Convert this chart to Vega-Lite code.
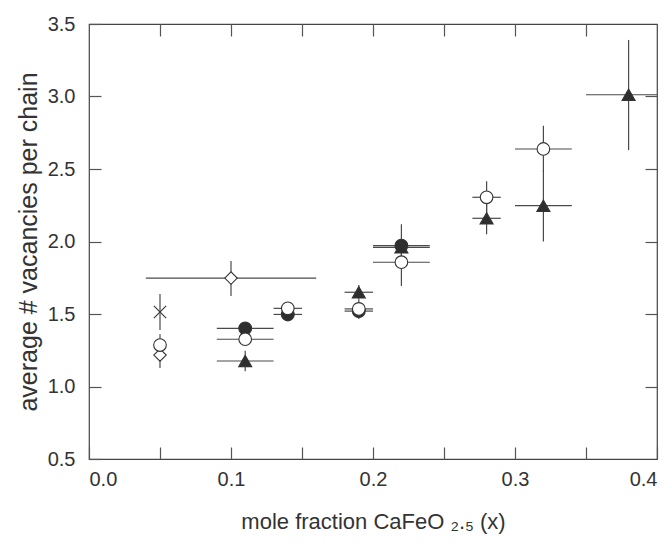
{
  "$schema": "https://vega.github.io/schema/vega-lite/v6.json",
  "width": 568,
  "height": 435,
  "autosize": "none",
  "padding": {"left": 89, "top": 24, "right": 15, "bottom": 85},
  "config": {
    "font": "Liberation Sans",
    "view": {"stroke": "#444", "strokeWidth": 1.2}
  },
  "data": {
    "values": [
      {"series": "triangle", "x": 0.11, "y": 1.176, "xlo": 0.09, "xhi": 0.13, "ylo": 1.106, "yhi": 1.246},
      {"series": "triangle", "x": 0.19, "y": 1.65, "xlo": 0.18, "xhi": 0.20, "ylo": 1.60, "yhi": 1.70},
      {"series": "triangle", "x": 0.22, "y": 1.96, "xlo": 0.20, "xhi": 0.24, "ylo": null, "yhi": null},
      {"series": "triangle", "x": 0.28, "y": 2.16, "xlo": 0.27, "xhi": 0.29, "ylo": 2.05, "yhi": 2.27},
      {"series": "triangle", "x": 0.32, "y": 2.247, "xlo": 0.30, "xhi": 0.34, "ylo": 2.0, "yhi": 2.49},
      {"series": "triangle", "x": 0.38, "y": 3.012, "xlo": 0.35, "xhi": 0.41, "ylo": 2.63, "yhi": 3.39},
      {"series": "filled circle", "x": 0.11, "y": 1.401, "xlo": 0.09, "xhi": 0.13, "ylo": null, "yhi": null},
      {"series": "filled circle", "x": 0.14, "y": 1.497, "xlo": 0.13, "xhi": 0.15, "ylo": null, "yhi": null},
      {"series": "filled circle", "x": 0.19, "y": 1.52, "xlo": 0.18, "xhi": 0.20, "ylo": null, "yhi": null},
      {"series": "filled circle", "x": 0.22, "y": 1.971, "xlo": 0.20, "xhi": 0.24, "ylo": 1.82, "yhi": 2.119},
      {"series": "open circle", "x": 0.05, "y": 1.286, "xlo": null, "xhi": null, "ylo": 1.21, "yhi": 1.36},
      {"series": "open circle", "x": 0.11, "y": 1.326, "xlo": 0.09, "xhi": 0.13, "ylo": null, "yhi": null},
      {"series": "open circle", "x": 0.14, "y": 1.539, "xlo": 0.13, "xhi": 0.15, "ylo": null, "yhi": null},
      {"series": "open circle", "x": 0.19, "y": 1.535, "xlo": 0.18, "xhi": 0.20, "ylo": 1.466, "yhi": 1.60},
      {"series": "open circle", "x": 0.22, "y": 1.857, "xlo": 0.20, "xhi": 0.24, "ylo": 1.693, "yhi": 2.02},
      {"series": "open circle", "x": 0.28, "y": 2.305, "xlo": 0.27, "xhi": 0.29, "ylo": 2.195, "yhi": 2.415},
      {"series": "open circle", "x": 0.32, "y": 2.638, "xlo": 0.30, "xhi": 0.34, "ylo": 2.48, "yhi": 2.799},
      {"series": "diamond", "x": 0.05, "y": 1.217, "xlo": null, "xhi": null, "ylo": 1.128, "yhi": 1.30},
      {"series": "diamond", "x": 0.10, "y": 1.748, "xlo": 0.04, "xhi": 0.16, "ylo": 1.624, "yhi": 1.866},
      {"series": "cross", "x": 0.05, "y": 1.514, "xlo": null, "xhi": null, "ylo": 1.39, "yhi": 1.638}
    ]
  },
  "resolve": {"axis": {"x": "independent", "y": "independent"}},
  "layer": [
    {
      "mark": {"type": "rule", "color": "#4a4a4a", "strokeWidth": 1.2, "clip": true},
      "transform": [{"filter": "isValid(datum.xlo)"}],
      "encoding": {
        "x": {"field": "xlo", "type": "quantitative",
          "scale": {"domain": [0, 0.4], "nice": false, "zero": false},
          "axis": {
            "orient": "bottom",
            "offset": -12,
            "grid": false,
            "domain": false,
            "ticks": true, "tickSize": 12, "tickColor": "#555", "tickWidth": 1.2,
            "values": [0, 0.05, 0.1, 0.15, 0.2, 0.25, 0.3, 0.35, 0.4],
            "labelExpr": "abs(datum.value*10 - round(datum.value*10)) < 0.001 ? format(datum.value, '.1f') : ''",
            "labelFontSize": 20, "labelColor": "#333", "labelPadding": 10,
            "labelFont": "Liberation Sans",
            "title": "mole fraction CaFeO ₂.₅ (x)",
            "titleFont": "Liberation Sans",
            "titleFontSize": 22, "titleFontWeight": "normal", "titleColor": "#333",
            "titlePadding": 22
          }},
        "x2": {"field": "xhi"},
        "y": {"field": "y", "type": "quantitative",
          "scale": {"domain": [0.5, 3.5], "nice": false, "zero": false},
          "axis": {
            "orient": "left",
            "offset": -12,
            "grid": false,
            "domain": false,
            "ticks": true, "tickSize": 12, "tickColor": "#555", "tickWidth": 1.2,
            "values": [0.5, 1.0, 1.5, 2.0, 2.5, 3.0, 3.5],
            "format": ".1f",
            "labelFontSize": 20, "labelColor": "#333", "labelPadding": 14,
            "labelFont": "Liberation Sans",
            "title": "average # vacancies per chain",
            "titleFont": "Liberation Sans",
            "titleFontSize": 25, "titleFontWeight": "normal", "titleColor": "#333",
            "titlePadding": 6
          }}
      }
    },
    {
      "mark": {"type": "rule", "color": "#4a4a4a", "strokeWidth": 1.2, "clip": true},
      "transform": [{"filter": "isValid(datum.ylo)"}],
      "encoding": {
        "x": {"field": "x", "type": "quantitative",
          "axis": {
            "orient": "top",
            "offset": -12,
            "grid": false,
            "domain": false,
            "ticks": true, "tickSize": 12, "tickColor": "#555", "tickWidth": 1.2,
            "values": [0.05, 0.1, 0.15, 0.2, 0.25, 0.3, 0.35],
            "labels": false,
            "title": null
          }},
        "y": {"field": "ylo", "type": "quantitative",
          "axis": {
            "orient": "right",
            "offset": -12,
            "grid": false,
            "domain": false,
            "ticks": true, "tickSize": 12, "tickColor": "#555", "tickWidth": 1.2,
            "values": [1.0, 1.5, 2.0, 2.5, 3.0],
            "labels": false,
            "title": null
          }},
        "y2": {"field": "yhi"}
      }
    },
    {
      "mark": {"type": "point", "filled": false, "opacity": 1, "stroke": "#333", "strokeWidth": 1.1},
      "encoding": {
        "x": {"field": "x", "type": "quantitative", "axis": null},
        "y": {"field": "y", "type": "quantitative", "axis": null},
        "shape": {"field": "series", "type": "nominal", "legend": null,
          "scale": {"domain": ["triangle", "filled circle", "open circle", "diamond", "cross"],
                    "range": ["triangle-up", "circle", "circle", "diamond", "M -1 -1 L 1 1 M -1 1 L 1 -1"]}},
        "fill": {"field": "series", "type": "nominal", "legend": null,
          "scale": {"domain": ["triangle", "filled circle", "open circle", "diamond", "cross"],
                    "range": ["#2e2e2e", "#2e2e2e", "#ffffff", "#ffffff", "transparent"]}},
        "size": {"field": "series", "type": "nominal", "legend": null,
          "scale": {"domain": ["triangle", "filled circle", "open circle", "diamond", "cross"],
                    "range": [170, 150, 150, 190, 120]}},
        "order": {"field": "series", "sort": "ascending"}
      }
    }
  ]
}
